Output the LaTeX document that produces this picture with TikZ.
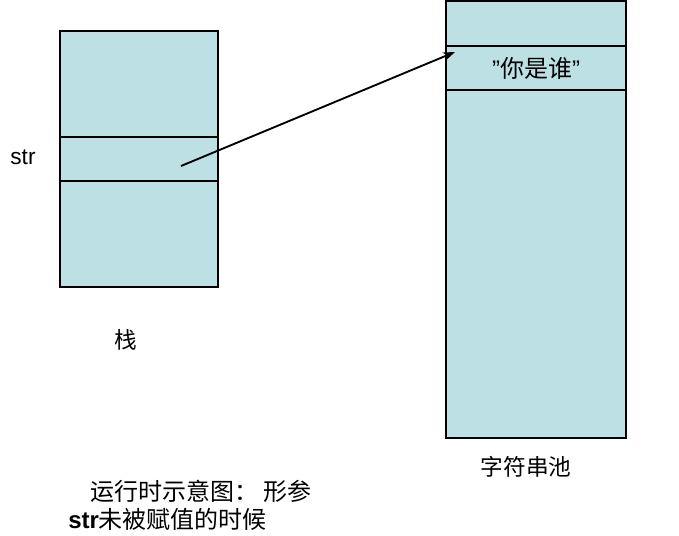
\documentclass[tikz,border=0pt]{standalone}
\usepackage{xcolor}
\usepackage{fontspec}
\setmainfont{Liberation Sans}
\newfontfamily\cjk{Noto Sans CJK SC}
\usetikzlibrary{arrows.meta}
\definecolor{cellblue}{RGB}{189,224,229}

\begin{document}
\begin{tikzpicture}[x=0.75pt, y=-0.75pt, >={Stealth[length=9pt, width=6.5pt]},
  every node/.style={font=\fontsize{17pt}{20pt}\selectfont},
  bigtext/.style={font=\fontsize{18pt}{21pt}\selectfont},
  cell/.style={draw, fill=cellblue, inner sep=0pt, line width=0.8pt}]
  \useasboundingbox (0,0) rectangle (679,536);
  % stack
  \node[cell, minimum width=118.5pt, minimum height=79.5pt] (stackTop) at (139,84) {};
  \node[cell, minimum width=118.5pt, minimum height=33pt] (strCell) at (139,159) {};
  \node[cell, minimum width=118.5pt, minimum height=79.5pt] (stackBot) at (139,234) {};
  \node (strLabel) at (23,157) {str};
  \node (stackLabel) at (126,340) {\cjk 栈};
  % string pool
  \node[cell, minimum width=135pt, minimum height=33.75pt] (poolTop) at (536,23.5) {};
  \node[cell, bigtext, minimum width=135pt, minimum height=33pt] (whoCell) at (536,68) {\symbol{34}{\cjk 你是谁}\symbol{34}};
  \node[cell, minimum width=135pt, minimum height=261pt] (poolRest) at (536,264) {};
  \node (poolLabel) at (526,467) {\cjk 字符串池};
  % pointer
  \coordinate (ptr) at (181,166);
  \coordinate (tgt) at (455,52);
  \draw[->, line width=1.4pt] (ptr) -- (tgt);
  % caption
  \node[bigtext, anchor=west, inner sep=0pt] (capA) at (90,491) {\cjk 运行时示意图：\ 形参};
  \node[bigtext, anchor=west, inner sep=0pt] (capB) at (68,519) {\textbf{str}\cjk 未被赋值的时候};
\end{tikzpicture}
\end{document}
